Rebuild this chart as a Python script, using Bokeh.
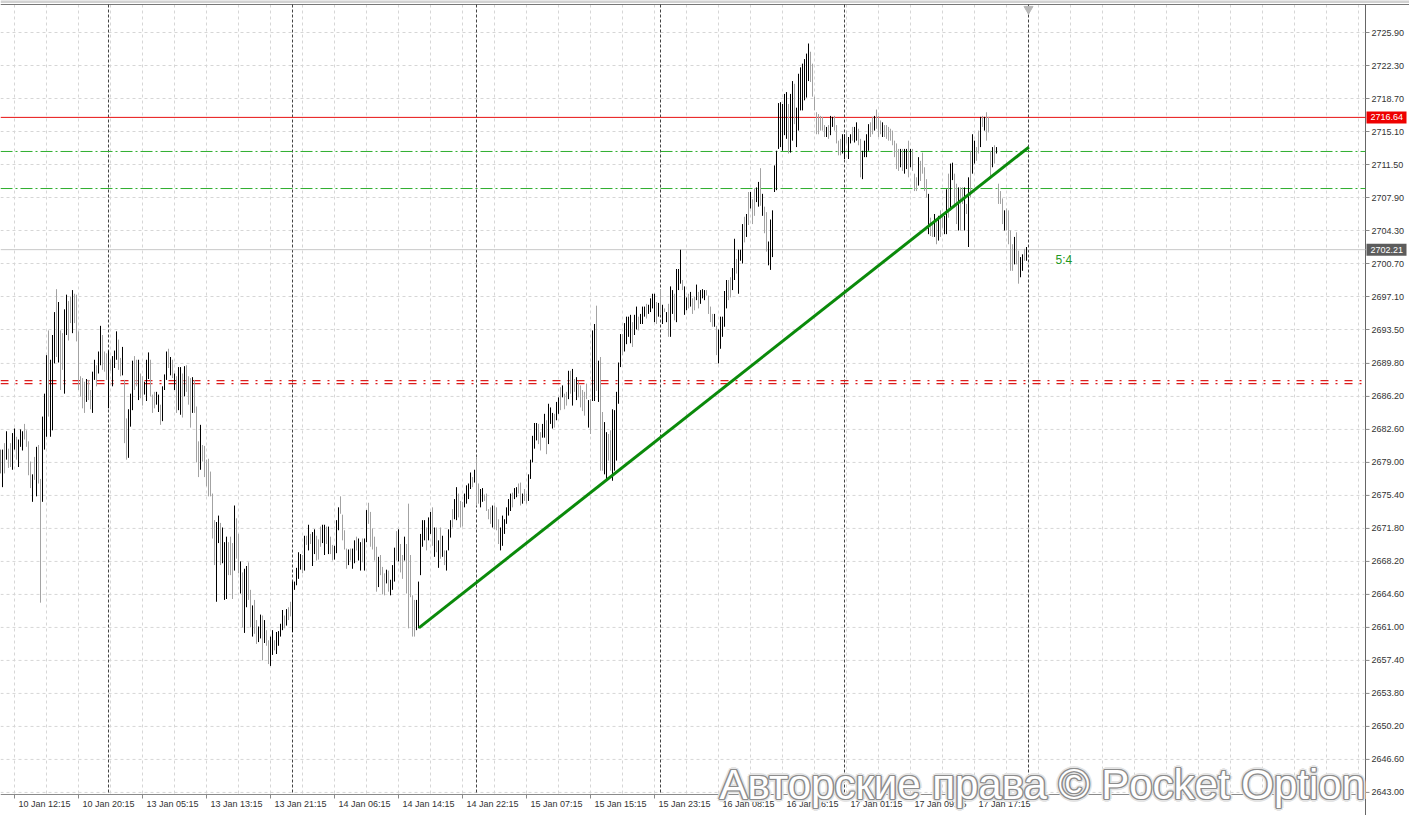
import numpy as np
from bokeh.plotting import figure
from bokeh.models import Range1d, Label
from bokeh.core.properties import value
from bokeh.embed import file_html
from bokeh.resources import INLINE

# ---------------- data (M15 bars, high / low / bullish flag) ----------------
bar_high = [
    2680.4, 2680.4, 2681.1, 2682.4, 2680.5, 2681.1, 2682.2, 2682.7, 2681.8, 2681.5,
    2682.6, 2682.4, 2683.2, 2682.5, 2681.3, 2679.1, 2677.7, 2679.6, 2680.7, 2680.9,
    2677.2, 2684.0, 2686.5, 2690.7, 2693.4, 2690.2, 2692.9, 2695.4, 2697.9, 2696.5,
    2693.4, 2693.1, 2695.7, 2697.3, 2696.6, 2697.1, 2697.8, 2697.4, 2697.3, 2693.3,
    2688.4, 2688.2, 2687.8, 2688.1, 2688.0, 2686.9, 2688.9, 2690.2, 2689.6, 2691.1,
    2693.9, 2692.9, 2691.1, 2690.9, 2691.2, 2690.2, 2690.6, 2691.2, 2693.3, 2692.4,
    2690.4, 2691.6, 2688.0, 2683.8, 2684.8, 2686.5, 2690.1, 2690.6, 2690.2, 2690.2,
    2688.7, 2688.4, 2687.8, 2690.2, 2691.0, 2690.2, 2686.4, 2686.7, 2686.7, 2686.4,
    2685.3, 2687.3, 2688.6, 2691.1, 2691.4, 2690.5, 2690.2, 2688.7, 2688.4, 2689.4,
    2689.4, 2688.7, 2689.5, 2689.6, 2688.4, 2688.2, 2688.3, 2688.0, 2685.1, 2681.3,
    2683.1, 2680.9, 2680.8, 2679.3, 2679.4, 2678.0, 2675.6, 2672.7, 2672.5, 2673.2,
    2672.4, 2671.9, 2670.3, 2670.9, 2670.3, 2670.9, 2670.2, 2674.3, 2672.9, 2671.2,
    2668.2, 2667.0, 2667.4, 2667.7, 2668.1, 2665.1, 2663.4, 2664.0, 2661.8, 2661.1,
    2662.4, 2662.3, 2661.8, 2660.7, 2659.6, 2660.0, 2660.7, 2659.6, 2660.5, 2660.6,
    2661.4, 2662.9, 2662.3, 2663.0, 2663.2, 2663.8, 2666.0, 2666.0, 2667.5, 2669.2,
    2669.0, 2668.9, 2671.0, 2671.0, 2672.2, 2671.2, 2671.4, 2671.7, 2671.0, 2670.6,
    2672.0, 2672.2, 2672.2, 2672.0, 2672.0, 2670.9, 2670.0, 2669.9, 2672.7, 2674.1,
    2675.3, 2673.3, 2671.6, 2669.6, 2669.5, 2669.6, 2669.6, 2670.5, 2670.9, 2670.7,
    2670.3, 2670.7, 2670.7, 2673.8, 2674.6, 2673.6, 2671.8, 2670.9, 2669.8, 2668.7,
    2668.9, 2667.6, 2666.9, 2667.3, 2667.2, 2666.2, 2667.8, 2669.7, 2671.5, 2671.7,
    2670.1, 2668.9, 2670.9, 2670.1, 2674.5, 2668.9, 2664.5, 2664.0, 2664.0, 2666.0,
    2671.2, 2672.7, 2672.7, 2671.9, 2673.0, 2673.6, 2674.1, 2671.9, 2671.9, 2670.5,
    2671.9, 2671.0, 2669.4, 2669.4, 2671.7, 2672.7, 2673.9, 2675.0, 2676.3, 2675.6,
    2674.8, 2674.7, 2675.6, 2676.5, 2676.7, 2677.9, 2677.4, 2678.2, 2679.6, 2676.7,
    2676.1, 2676.2, 2675.5, 2675.6, 2673.9, 2674.1, 2674.3, 2674.3, 2674.1, 2672.8,
    2671.9, 2673.2, 2672.8, 2674.1, 2675.0, 2675.6, 2675.7, 2676.2, 2676.3, 2676.7,
    2676.8, 2675.6, 2676.1, 2675.6, 2677.7, 2679.3, 2681.9, 2683.3, 2683.3, 2683.2,
    2682.3, 2683.2, 2684.3, 2683.6, 2685.4, 2685.0, 2684.4, 2684.3, 2685.6, 2686.1,
    2687.2, 2687.4, 2686.5, 2686.7, 2689.0, 2689.0, 2689.2, 2688.1, 2688.3, 2687.9,
    2687.4, 2686.9, 2686.7, 2687.6, 2685.8, 2685.9, 2693.4, 2694.1, 2696.1, 2690.1,
    2690.5, 2684.5, 2683.4, 2682.3, 2682.1, 2682.5, 2684.8, 2684.7, 2686.7, 2689.9,
    2693.0, 2693.0, 2694.2, 2694.9, 2694.9, 2695.1, 2694.3, 2695.1, 2696.0, 2694.9,
    2695.2, 2696.0, 2696.0, 2696.3, 2696.2, 2696.9, 2697.4, 2697.4, 2696.5, 2696.4,
    2697.9, 2696.2, 2695.8, 2695.4, 2696.3, 2698.2, 2697.8, 2697.4, 2700.1, 2700.1,
    2702.2, 2698.9, 2698.2, 2697.0, 2697.4, 2697.6, 2696.9, 2697.1, 2698.4, 2697.6,
    2697.8, 2697.9, 2697.8, 2697.8, 2697.2, 2696.0, 2695.2, 2695.2, 2693.9, 2693.5,
    2694.9, 2694.9, 2697.7, 2698.9, 2698.9, 2699.2, 2700.2, 2703.4, 2701.2, 2702.2,
    2702.2, 2705.0, 2705.8, 2706.1, 2708.5, 2708.5, 2707.7, 2708.9, 2709.0, 2709.6,
    2711.1, 2708.3, 2706.9, 2706.3, 2703.1, 2705.5, 2706.5, 2711.4, 2713.0, 2718.2,
    2718.3, 2718.1, 2719.2, 2719.4, 2718.1, 2719.2, 2720.6, 2720.3, 2717.7, 2721.4,
    2722.1, 2722.5, 2723.0, 2723.6, 2724.7, 2723.8, 2722.5, 2718.9, 2717.2, 2717.0,
    2716.8, 2716.7, 2715.8, 2715.6, 2715.8, 2716.8, 2716.7, 2716.8, 2715.8, 2714.1,
    2714.3, 2714.8, 2714.8, 2715.2, 2714.5, 2714.8, 2715.6, 2715.6, 2716.1, 2715.4,
    2714.3, 2713.0, 2714.1, 2714.8, 2715.9, 2716.1, 2716.7, 2716.8, 2717.5, 2716.8,
    2716.3, 2716.1, 2715.8, 2715.8, 2715.6, 2715.4, 2715.2, 2714.1, 2713.8, 2713.2,
    2713.2, 2713.2, 2713.2, 2713.2, 2714.1, 2713.2, 2713.2, 2710.5, 2710.1, 2712.3,
    2711.9, 2712.8, 2711.2, 2709.9, 2708.3, 2705.7, 2705.0, 2706.1, 2705.4, 2705.9,
    2706.5, 2706.1, 2705.9, 2708.8, 2710.5, 2711.6, 2711.7, 2710.5, 2709.4, 2709.0,
    2709.0, 2709.0, 2709.0, 2707.2, 2710.1, 2713.0, 2714.8, 2714.1, 2713.4, 2715.2,
    2716.7, 2716.8, 2716.7, 2717.2, 2716.7, 2713.0, 2713.4, 2713.6, 2713.4, 2709.4,
    2708.6, 2707.8, 2706.5, 2706.7, 2706.5, 2704.3, 2702.8, 2703.6, 2704.1, 2702.1,
    2701.4, 2701.7, 2702.3, 2702.5,
]
bar_low = [
    2677.8, 2676.3, 2677.8, 2679.3, 2678.4, 2678.5, 2678.2, 2680.4, 2679.3, 2678.5,
    2680.7, 2680.3, 2681.5, 2680.7, 2677.6, 2676.2, 2674.7, 2677.1, 2675.3, 2676.7,
    2663.7, 2674.7, 2680.4, 2681.8, 2684.0, 2681.8, 2682.5, 2689.8, 2690.5, 2689.9,
    2686.9, 2689.1, 2686.5, 2692.9, 2692.3, 2694.2, 2693.1, 2694.2, 2692.2, 2686.9,
    2686.2, 2684.9, 2684.4, 2685.6, 2685.8, 2684.8, 2684.4, 2688.0, 2687.3, 2688.7,
    2689.6, 2689.1, 2688.9, 2688.0, 2684.9, 2689.0, 2687.3, 2689.3, 2690.2, 2689.1,
    2688.4, 2688.5, 2681.1, 2679.3, 2679.5, 2682.9, 2684.7, 2686.9, 2687.3, 2685.8,
    2686.0, 2685.2, 2686.4, 2685.7, 2688.1, 2686.2, 2684.4, 2684.9, 2685.3, 2684.5,
    2683.1, 2683.5, 2686.9, 2688.0, 2689.3, 2688.5, 2688.2, 2686.9, 2684.4, 2684.7,
    2684.2, 2683.9, 2686.2, 2686.7, 2685.3, 2682.8, 2684.4, 2684.4, 2679.0, 2677.4,
    2678.2, 2679.1, 2677.4, 2676.4, 2675.3, 2675.3, 2670.7, 2667.8, 2663.8, 2670.2,
    2667.8, 2668.0, 2664.0, 2664.1, 2666.7, 2666.7, 2664.1, 2667.2, 2668.5, 2666.9,
    2664.7, 2661.0, 2660.4, 2663.2, 2664.0, 2661.0, 2660.0, 2660.3, 2659.2, 2659.4,
    2659.8, 2657.4, 2659.3, 2659.0, 2657.0, 2656.8, 2658.0, 2658.5, 2658.1, 2659.0,
    2660.0, 2660.7, 2660.9, 2661.2, 2661.8, 2662.2, 2660.5, 2665.1, 2665.6, 2666.3,
    2667.3, 2666.9, 2667.2, 2670.0, 2669.4, 2670.1, 2667.7, 2669.0, 2668.3, 2668.4,
    2669.8, 2670.2, 2668.9, 2670.1, 2669.0, 2669.0, 2668.3, 2668.4, 2669.1, 2671.6,
    2673.4, 2670.5, 2669.5, 2667.4, 2667.8, 2668.3, 2667.4, 2668.0, 2669.4, 2668.3,
    2667.2, 2668.1, 2667.2, 2670.3, 2672.3, 2669.8, 2669.5, 2668.3, 2664.9, 2665.4,
    2666.7, 2664.6, 2664.5, 2665.8, 2664.9, 2664.5, 2665.1, 2666.0, 2668.3, 2668.2,
    2667.0, 2666.3, 2668.3, 2664.7, 2660.9, 2664.3, 2660.0, 2660.0, 2660.7, 2660.9,
    2666.7, 2669.8, 2670.5, 2669.4, 2670.5, 2671.2, 2669.9, 2668.7, 2669.2, 2667.5,
    2668.5, 2668.7, 2667.8, 2667.2, 2669.4, 2670.8, 2671.9, 2672.8, 2672.7, 2673.0,
    2671.9, 2672.0, 2674.1, 2674.5, 2675.0, 2676.1, 2676.3, 2676.8, 2674.3, 2674.5,
    2674.1, 2674.7, 2674.8, 2673.7, 2672.8, 2672.3, 2671.9, 2671.7, 2671.6, 2670.1,
    2669.4, 2669.9, 2671.2, 2672.3, 2673.2, 2673.7, 2674.1, 2675.0, 2675.2, 2675.6,
    2674.3, 2674.5, 2674.8, 2674.5, 2674.8, 2677.2, 2679.0, 2680.5, 2681.4, 2681.0,
    2680.3, 2681.7, 2681.7, 2679.9, 2681.0, 2683.2, 2682.7, 2682.8, 2683.6, 2684.3,
    2684.7, 2686.1, 2684.8, 2685.2, 2685.9, 2686.5, 2685.2, 2686.7, 2685.8, 2686.1,
    2685.0, 2684.6, 2684.1, 2685.9, 2682.8, 2682.1, 2685.7, 2685.7, 2686.8, 2685.6,
    2678.1, 2678.1, 2677.7, 2677.0, 2679.2, 2678.1, 2677.0, 2678.1, 2679.2, 2685.4,
    2689.4, 2690.7, 2691.1, 2691.9, 2692.7, 2692.0, 2691.6, 2692.9, 2693.5, 2693.4,
    2694.1, 2694.1, 2694.9, 2694.7, 2695.2, 2695.4, 2695.8, 2694.3, 2694.1, 2694.9,
    2695.2, 2694.1, 2695.4, 2694.3, 2692.7, 2692.7, 2695.2, 2694.5, 2694.3, 2697.8,
    2698.5, 2697.8, 2695.1, 2695.6, 2695.8, 2696.0, 2695.2, 2695.6, 2696.7, 2695.8,
    2696.3, 2696.9, 2696.7, 2697.2, 2695.2, 2694.3, 2693.8, 2693.8, 2690.7, 2689.8,
    2691.4, 2692.7, 2693.8, 2695.8, 2696.7, 2697.0, 2697.8, 2698.9, 2699.6, 2697.4,
    2701.0, 2700.7, 2703.0, 2703.6, 2704.9, 2706.7, 2705.0, 2705.9, 2707.4, 2706.9,
    2707.0, 2705.9, 2704.0, 2702.0, 2700.5, 2700.0, 2701.4, 2708.5, 2708.7, 2713.2,
    2713.4, 2713.0, 2714.7, 2714.3, 2712.7, 2712.8, 2714.1, 2715.9, 2713.4, 2715.2,
    2717.4, 2717.4, 2718.5, 2718.8, 2720.6, 2720.5, 2718.9, 2717.4, 2714.8, 2714.8,
    2715.2, 2715.2, 2714.5, 2714.5, 2714.3, 2714.7, 2715.6, 2715.2, 2713.8, 2712.5,
    2712.5, 2712.7, 2712.1, 2713.8, 2712.1, 2713.8, 2714.1, 2713.9, 2714.1, 2713.6,
    2710.1, 2709.9, 2712.3, 2712.3, 2713.0, 2714.5, 2714.8, 2715.2, 2715.4, 2714.5,
    2714.8, 2714.5, 2714.5, 2714.3, 2714.1, 2714.1, 2713.6, 2712.3, 2711.0, 2710.8,
    2711.2, 2710.8, 2710.5, 2711.0, 2710.1, 2711.2, 2710.8, 2708.6, 2708.6, 2709.2,
    2709.7, 2710.5, 2708.6, 2707.9, 2703.9, 2703.7, 2703.6, 2703.6, 2702.8, 2703.2,
    2703.6, 2704.6, 2703.9, 2703.9, 2705.7, 2706.5, 2709.8, 2706.8, 2705.0, 2704.3,
    2704.3, 2707.2, 2704.3, 2706.1, 2702.5, 2707.9, 2710.5, 2711.6, 2711.9, 2712.7,
    2713.4, 2715.6, 2715.2, 2714.1, 2715.0, 2710.1, 2711.2, 2711.6, 2712.7, 2707.2,
    2707.2, 2705.0, 2704.3, 2704.3, 2702.8, 2699.9, 2699.9, 2700.6, 2700.6, 2698.5,
    2699.2, 2699.9, 2701.0, 2701.0,
]
bar_up = [
    1,1,0,1,0,0,1,1,0,1, 1,1,0,0,0,0,1,0,1,0, 0,1,1,1,0,1,1,1,0,1, 0,0,1,1,0,0,1,0,0,0,
    0,0,0,1,0,0,1,1,0,1, 1,0,0,0,1,0,1,1,1,0, 0,1,0,0,1,1,1,0,0,1, 0,0,1,1,1,0,0,0,1,1,
    0,1,1,1,0,1,0,1,0,1, 1,0,1,0,0,0,1,0,0,0, 1,0,0,0,0,0,0,0,1,1,
    0,1,1,1,0,0,0,1,0,0, 1,0,1,1,0,0,1,0,0,1, 1,0,1,0,0,1,1,0,1,1, 1,1,0,1,0,0,1,1,1,1,
    1,0,1,0,1,0,1,1,0,0, 0,1,1,0,1,0,0,1,1,1, 0,0,0,0,1,0,1,1,0,1, 1,0,1,1,0,0,0,0,0,1,
    0,0,0,1,0,1,1,1,0,1, 0,0,1,0,0,0,0,0,1,1,
    1,1,1,0,1,1,0,1,0,1, 0,1,0,1,1,1,0,1,1,0, 0,0,1,1,1,1,0,1,0,0, 1,1,0,0,0,0,1,0,0,0,
    1,1,1,1,1,1,0,1,1,0, 0,1,0,0,1,1,1,1,1,0, 0,1,1,0,1,1,1,0,1,1, 0,1,0,0,1,0,1,0,1,0,
    0,0,0,0,1,0,1,1,0,1, 0,0,1,1,0,0,1,1,1,1,
    1,0,1,1,1,1,0,1,1,0, 1,1,1,0,1,1,1,1,0,1, 0,1,0,1,0,1,1,0,1,1, 1,0,1,1,0,1,0,0,1,0,
    1,1,1,0,0,0,0,1,0,1, 1,1,1,1,0,0,1,1,0,1, 1,1,0,1,0,1,0,0,1,1, 0,1,0,0,1,1,1,1,1,1,
    1,1,1,1,0,
    1,1,0,1,1,
    1,1,1,1,1,0,0,0,0,0, 0,0,0,1,0,1,1,0,0,0, 0,1,1,0,1,1,0,1,1,0, 0,1,1,1,1,0,0,1,0,0,
    0,1,0,0,0,0,0,0,0,0, 1,0,1,1,0,1,0,0,0,1, 0,0,0,0,1,0,0,1,0,1, 0,0,1,1,0,1,1,0,0,1,
    0,0,1,0,1,0,1,1,0,0, 1,0,1,0,0,0,1,0,1,0, 0,0,1,0,0,0,0,1,0,0, 1,1,0,1,
]

y_ticks = [2725.90, 2722.30, 2718.70, 2715.10, 2711.50, 2707.90, 2704.30, 2700.70,
           2697.10, 2693.50, 2689.80, 2686.20, 2682.60, 2679.00, 2675.40, 2671.80,
           2668.20, 2664.60, 2661.00, 2657.40, 2653.80, 2650.20, 2646.60, 2643.00]
x_tick_labels = ["10 Jan 12:15", "10 Jan 20:15", "13 Jan 05:15", "13 Jan 13:15",
                 "13 Jan 21:15", "14 Jan 06:15", "14 Jan 14:15", "14 Jan 22:15",
                 "15 Jan 07:15", "15 Jan 15:15", "15 Jan 23:15", "16 Jan 08:15",
                 "16 Jan 16:15", "17 Jan 01:15", "17 Jan 09:15", "17 Jan 17:15"]
x_tick_index = [7 + 32 * k for k in range(len(x_tick_labels))]
grid_index = [7 + 16 * k for k in range(43)]
day_separators = [54, 146, 238, 330, 422, 514]

resistance_level = 2716.64
last_price = 2702.21
green_levels = [2712.92, 2708.88]
red_levels = [2687.93, 2687.60]
trend_x = [209.2, 514.2]
trend_y = [2660.95, 2713.40]
ratio_label = "5:4"
watermark = "Авторские права © Pocket Option"

# ---------------- layout helpers (pixel <-> data) ----------------
W, H = 1409, 815
CHART_R, CHART_T, CHART_B = 1365, 4, 794


def X(px):
    return px / 2.0


def Y(py):
    return 2725.9 - (py - 32) * 3.6 / 33


def PY(v):
    return 32 + (2725.9 - v) * 33 / 3.6


FONT = value("Liberation Sans")

p = figure(width=W, height=H, x_range=Range1d(X(0), X(W)), y_range=Range1d(Y(H), Y(0)),
           output_backend="svg", toolbar_location=None,
           x_axis_location=None, y_axis_location=None, min_border=0)
p.grid.visible = False
p.outline_line_color = None
p.background_fill_color = "white"
p.border_fill_color = "white"

# grid
p.segment(x0=X(0), x1=X(CHART_R - 1), y0=y_ticks, y1=y_ticks,
          line_color="#d6d6d6", line_dash="3 3", line_width=1)
p.segment(x0=grid_index, x1=grid_index, y0=Y(CHART_T), y1=Y(CHART_B),
          line_color="#d6d6d6", line_dash="3 3", line_width=1)

# frame / axes lines
p.segment(x0=X(0), x1=X(W), y0=Y(1), y1=Y(1), line_color="#d2d2d2", line_width=3)
p.segment(x0=X(0), x1=X(W), y0=Y(CHART_T), y1=Y(CHART_T), line_color="#777777", line_width=1)
p.segment(x0=X(CHART_R), x1=X(CHART_R), y0=Y(CHART_T), y1=Y(H), line_color="#666666", line_width=1)
p.segment(x0=X(0), x1=X(CHART_R), y0=Y(CHART_B), y1=Y(CHART_B), line_color="#8a8a8a", line_width=1)

# y ticks + labels
p.segment(x0=X(CHART_R), x1=X(CHART_R + 4), y0=y_ticks, y1=y_ticks, line_color="#8a8a8a")
p.text(x=X(1371), y=y_ticks, text=[f"{v:.2f}" for v in y_ticks], text_align="left",
       text_baseline="middle", text_font=FONT, text_font_size="9px", text_color="#333333")

# x ticks + labels
p.segment(x0=x_tick_index, x1=x_tick_index, y0=Y(CHART_B), y1=Y(CHART_B + 4),
          line_color="#8a8a8a")
p.text(x=[t + 2 for t in x_tick_index], y=Y(798.5), text=x_tick_labels, text_align="left",
       text_baseline="top", text_font=FONT, text_font_size="9px", text_color="#333333")

# day separators
p.segment(x0=day_separators, x1=day_separators, y0=Y(CHART_T), y1=Y(CHART_B),
          line_color="#444444", line_dash="3 2", line_width=1)
p.scatter([day_separators[-1]], [Y(8.5)], marker="inverted_triangle", size=9, color="#b8b8b8")

# horizontal levels
p.segment(x0=X(0), x1=X(CHART_R), y0=last_price, y1=last_price, line_color="#c8c8c8")
for lv in green_levels:
    p.line([X(0), X(CHART_R)], [lv, lv], line_color="#2fae2f", line_dash="12 3 2 3",
           line_width=1)
for lv in red_levels:
    p.line([X(0), X(CHART_R)], [lv, lv], line_color="#dd1c1c", line_dash="8 7 2 7",
           line_width=1.2)
p.line([X(0), X(CHART_R)], [resistance_level, resistance_level], line_color="#e81010",
       line_width=1)

# bars
n = min(len(bar_high), len(bar_low), len(bar_up))
xs = np.arange(n)
colors = ["#000000" if u else "#a3a3a3" for u in bar_up[:n]]
p.segment(x0=xs, y0=bar_low[:n], x1=xs, y1=bar_high[:n], line_color=colors, line_width=1)

# trend line
p.line(trend_x, trend_y, line_color="#0a8a0a", line_width=3)

# ratio text
p.text(x=[X(1055)], y=[Y(259)], text=[ratio_label], text_color="#1f991f", text_font=FONT,
       text_font_size="12px", text_baseline="middle", text_align="left")

# price boxes on the axis
box_levels = [resistance_level, last_price]
box_colors = ["#ee0000", "#5c5c5c"]
p.quad(left=X(1366), right=X(1406),
       top=[Y(PY(v) - 6) for v in box_levels], bottom=[Y(PY(v) + 6) for v in box_levels],
       fill_color=box_colors, line_color=None)
p.text(x=X(1370), y=box_levels, text=[f"{v:.2f}" for v in box_levels], text_color="white",
       text_align="left", text_baseline="middle", text_font=FONT, text_font_size="9px")

# watermark (outlined text)
layers = []
for r, col in ((3.0, "#e4e4e4"), (1.4, "#8c8c8c")):
    for dx, dy in ((-1, 0), (1, 0), (0, -1), (0, 1), (-0.7, -0.7), (0.7, 0.7), (-0.7, 0.7), (0.7, -0.7)):
        layers.append((dx * r, dy * r, col))
layers.append((0, 0, "#ffffff"))
for dx, dy, col in layers:
    p.add_layout(Label(x=719, y=31, x_units="screen", y_units="screen", text=watermark,
                       text_font="Liberation Sans", text_font_size="42px", text_color=col,
                       x_offset=dx, y_offset=dy, text_baseline="alphabetic"))

open("out.html", "w").write(file_html(p, INLINE))
